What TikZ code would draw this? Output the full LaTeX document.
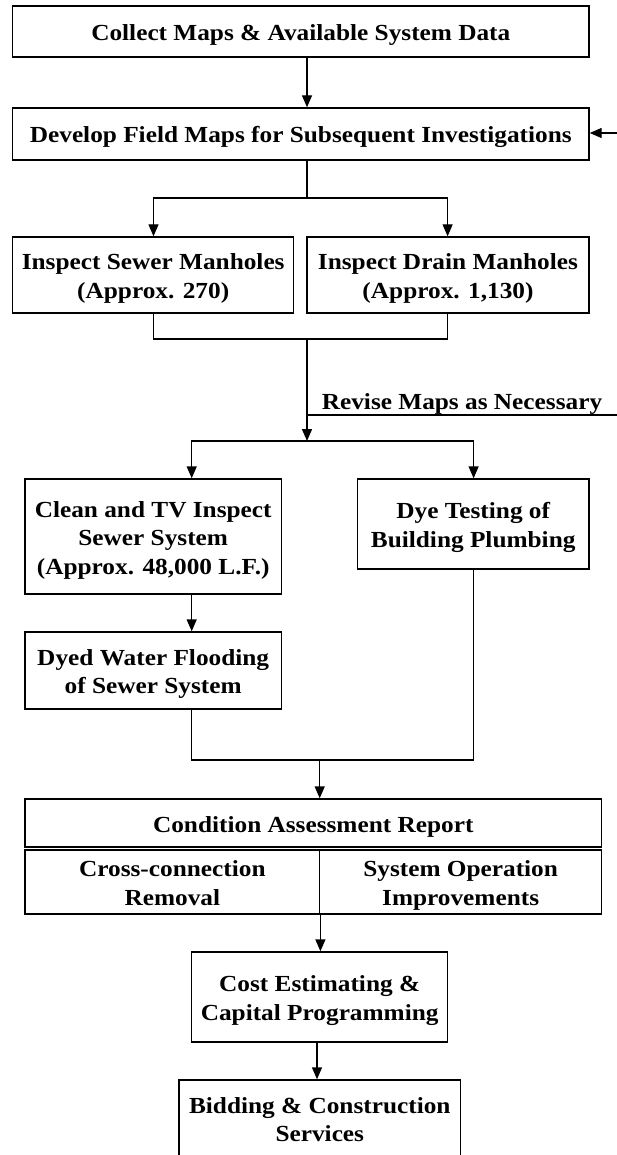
\documentclass[tikz,border=0pt]{standalone}
\usepackage{fontspec}
\setmainfont{Liberation Serif}[FakeStretch=1.1]
\usetikzlibrary{arrows.meta}
\newcommand{\Th}{\rule{0pt}{23.5pt}}
\newcommand{\Td}{\rule[-5.5pt]{0pt}{5.5pt}}
\begin{document}
\begin{tikzpicture}[x=1pt,y=-1pt,
  box/.style={draw, line width=1.4pt, inner sep=0pt, align=center,
    font=\fontsize{23}{28.5}\selectfont\bfseries},
  lbl/.style={inner sep=0pt, font=\fontsize{23}{28.5}\selectfont\bfseries},
  arr/.style={line width=1.4pt, -{Triangle[length=12pt,width=10pt]}},
  ln/.style={line width=1.4pt}]
\clip (0,0) rectangle (617,1155);
\fill[white] (0,0) rectangle (617,1155);
% x positions of vertical connectors
\coordinate (xA) at (307,0);
\coordinate (x3) at (153.5,0);
\coordinate (x4) at (447.6,0);
\coordinate (x5) at (191.7,0);
\coordinate (x6) at (473.6,0);
\coordinate (x10) at (317,0);
% boxes
\node[box, minimum width=576.4pt, minimum height=51pt] (b1) at (300.8,31.5) {\Th Collect Maps \& Available System Data\Td};
\node[box, minimum width=576.4pt, minimum height=52pt] (b2) at (300.8,134) {\Th Develop Field Maps for Subsequent Investigations\Td};
\node[box, minimum width=281pt, minimum height=76pt] (b3) at (153.2,275) {\Th Inspect Sewer Manholes\\(Approx. 270)\Td};
\node[box, minimum width=282pt, minimum height=76pt] (b4) at (448,275) {\Th Inspect Drain Manholes\\(Approx. 1,130)\Td};
\node[box, minimum width=256.5pt, minimum height=115pt] (b5) at (153.2,536.5) {\Th Clean and TV Inspect\\Sewer System\\(Approx. 48,000 L.F.)\Td};
\node[box, minimum width=231.5pt, minimum height=90pt] (b6) at (473.2,524) {\Th Dye Testing of\\Building Plumbing\Td};
\node[box, minimum width=256.5pt, minimum height=77pt] (b7) at (153.2,670.5) {\Th Dyed Water Flooding\\of Sewer System\Td};
\node[box, minimum width=576.6pt, minimum height=48pt] (b8) at (313.3,823) {\Th Condition Assessment Report\Td};
\node[box, minimum width=294.7pt, minimum height=64pt] (b9L) at (172.35,882) {\Th Cross-connection\\Removal\Td};
\node[box, minimum width=281.9pt, minimum height=64pt] (b9R) at (460.65,882) {\Th System Operation\\Improvements\Td};
\node[box, minimum width=255.9pt, minimum height=90pt] (b10) at (319.65,997) {\Th Cost Estimating \&\\Capital Programming\Td};
\node[box, minimum width=281.6pt, minimum height=77pt] (b11) at (319.8,1118.5) {\Th Bidding \& Construction\\Services\Td};
% connectors
\draw[arr] (b1.south -| xA) -- (b2.north -| xA);
\coordinate (s1) at (307,198);
\draw[ln] (b2.south -| xA) -- (s1);
\draw[arr] (s1) -| (b3.north -| x3);
\draw[arr] (s1) -| (b4.north -| x4);
\coordinate (j1) at (307,339);
\draw[ln] (b3.south -| x3) |- (j1);
\draw[ln] (b4.south -| x4) |- (j1);
\coordinate (s2) at (307,441);
\draw[arr] (j1) -- (s2);
\draw[arr] (s2) -| (b5.north -| x5);
\draw[arr] (s2) -| (b6.north -| x6);
% revise feedback
\coordinate (r1) at (617,415);
\draw[ln] (r1) -- (r1 -| xA);
\node[lbl] (rev) at (462,400) {\Th Revise Maps as Necessary\Td};
\coordinate (f1) at (617,133);
\draw[arr] (f1) -- (b2.east |- f1);
% lower part
\draw[arr] (b5.south -| x5) -- (b7.north -| x5);
\coordinate (j2) at (319.7,760);
\draw[ln] (b7.south -| x5) |- (j2);
\draw[ln] (b6.south -| x6) |- (j2);
\draw[arr] (j2) -- (b8.north -| j2);
\draw[arr] (b9L.south east) -- (b10.north -| b9L.south east);
\draw[arr] (b10.south -| x10) -- (b11.north -| x10);
\end{tikzpicture}
\end{document}
